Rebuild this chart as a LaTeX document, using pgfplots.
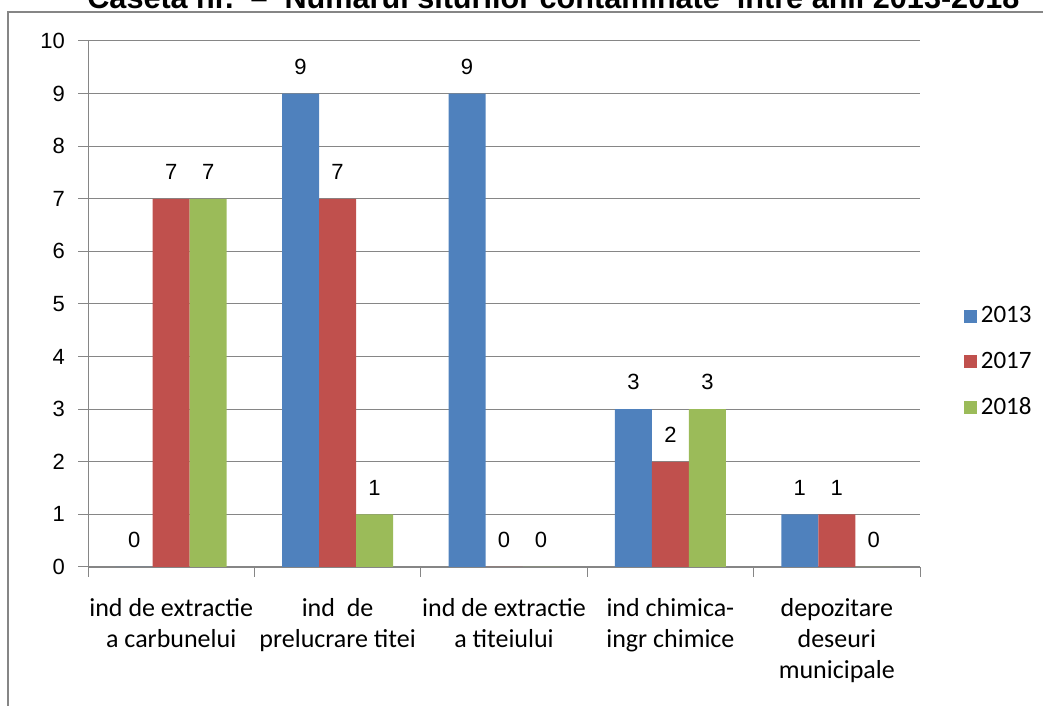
\documentclass[border=0pt]{standalone}
\usepackage{pgfplots}
\pgfplotsset{compat=1.18}
\usepackage{fontspec}
\setmainfont{Liberation Sans}
\newfontfamily\carlito{Carlito}
\definecolor{c13}{HTML}{4F81BD}
\definecolor{c17}{HTML}{C0504D}
\definecolor{c18}{HTML}{9BBB59}
\definecolor{gridgray}{HTML}{868686}
\begin{document}
\begin{tikzpicture}
\path[use as bounding box] (0,0) rectangle (521.5pt,353pt);
% frame of the chart area
\draw[gridgray,line width=1pt] (4pt,-5pt) -- (4pt,347pt) -- (530pt,347pt);
% title, only its lower part is on the page
\node[anchor=base west,inner sep=0pt,font=\bfseries\fontsize{15.3}{18}\selectfont] at (43.5pt,348.5pt)
  {Caseta nr.\ \ --\ \ Numarul siturilor contaminate\ \ intre anii 2013-2018};
\begin{axis}[
  at={(85.6pt,69.5pt)}, anchor=origin,
  scale only axis, width=416pt, height=263pt,
  ybar=0pt, bar width=18.5pt,
  xmin=-0.5, xmax=4.5, ymin=0, ymax=10,
  ytick={0,...,10},
  xtick={-0.5,0.5,1.5,2.5,3.5,4.5},
  x tick label as interval,
  xticklabels={{ind de extractie\\a carbunelui},{ind\ \ de\\prelucrare titei},{ind de extractie\\a titeiului},{ind chimica-\\ingr chimice},{depozitare\\deseuri\\municipale}},
  x tick label style={font=\carlito\fontsize{13}{15.5}\selectfont, align=center, anchor=north, yshift=-7pt},
  y tick label style={font=\fontsize{11}{12}\selectfont, xshift=-3pt},
  /pgf/number format/assume math mode=true,
  tick align=outside, major tick length=5pt,
  xtick pos=bottom, ytick pos=left,
  axis x line*=bottom, axis y line*=left,
  axis line style={gridgray},
  tick style={gridgray, line width=0.5pt},
  ymajorgrids, grid style={gridgray, line width=0.5pt},
  nodes near coords,
  every node near coord/.append style={font=\fontsize{11}{12}\selectfont, black, yshift=6pt},
  legend style={draw=none, fill=none, at={(1.045,0.39)}, anchor=west,
    font=\carlito\fontsize{12.5}{14}\selectfont, row sep=9pt},
  legend image code/.code={\fill[#1] (0pt,-3.25pt) rectangle (6.5pt,3.25pt);},
  legend cell align=left,
]
\addplot[fill=c13, draw=none] coordinates {(0,0) (1,9) (2,9) (3,3) (4,1)};
\addplot[fill=c17, draw=none] coordinates {(0,7) (1,7) (2,0) (3,2) (4,1)};
\addplot[fill=c18, draw=none] coordinates {(0,7) (1,1) (2,0) (3,3) (4,0)};
\legend{2013,2017,2018}
\end{axis}
\end{tikzpicture}
\end{document}
